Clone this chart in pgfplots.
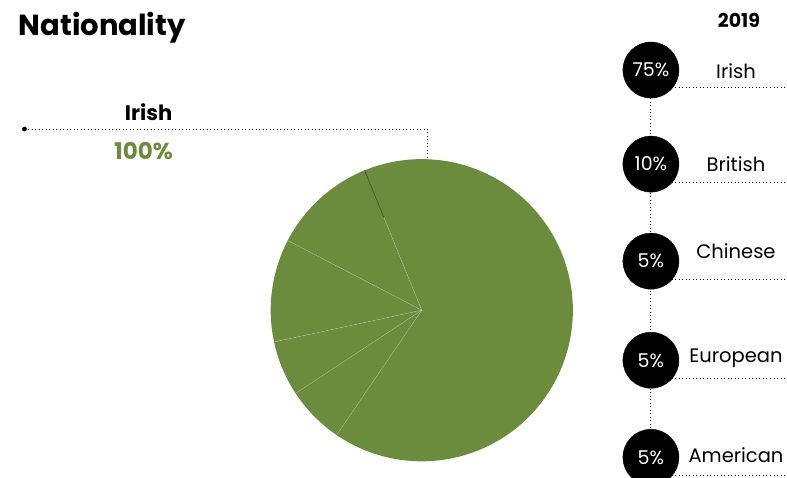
\documentclass[border=0pt]{standalone}
\usepackage{pgfplots}
\pgfplotsset{compat=1.18}
\usepackage{pgfplotstable}
\usepackage{fontspec}
\setmainfont{Poppins}
\definecolor{pgreen}{RGB}{107,140,60}

\pgfplotstableread{
label value
Irish 65.7
British 11.2
Chinese 11.0
European 5.9
American 6.2
}\piedata

\pgfplotstableread{
x y pct
651 70 75\%
651 164 10\%
651 261 5\%
651 360 5\%
651 457 5\%
}\circdata

\pgfplotstableread{
x y name
736 71 Irish
736 164 British
736 251 Chinese
736 358 European
736 455 American
}\namedata

\begin{document}
\pgfplotstablegetelem{0}{value}\of\piedata\let\vA\pgfplotsretval
\pgfplotstablegetelem{1}{value}\of\piedata\let\vB\pgfplotsretval
\pgfplotstablegetelem{2}{value}\of\piedata\let\vC\pgfplotsretval
\pgfplotstablegetelem{3}{value}\of\piedata\let\vD\pgfplotsretval
\pgfplotstablegetelem{4}{value}\of\piedata\let\vE\pgfplotsretval
\pgfmathsetmacro\tot{\vA+\vB+\vC+\vD+\vE}
\pgfmathsetmacro\sA{235.7}
\pgfmathsetmacro\sB{\sA+\vA/\tot*360}
\pgfmathsetmacro\sC{\sB+\vB/\tot*360}
\pgfmathsetmacro\sD{\sC+\vC/\tot*360}
\pgfmathsetmacro\sE{\sD+\vD/\tot*360}
\pgfmathsetmacro\sF{\sE+\vE/\tot*360}
\begin{tikzpicture}
\begin{axis}[at={(0,0)}, anchor=south west, scale only axis,
  width=787pt, height=477pt, xmin=0, xmax=787, ymin=0, ymax=477,
  y dir=reverse, hide axis, xtick=\empty, ytick=\empty,
  clip=true, clip bounding box=upper bound, clip marker paths=true]
\path (axis cs:400,0) -- (axis cs:400,5);
% pie
\fill[pgreen] (axis cs:422,310) -- ++(\sA:151pt) arc[start angle=\sA, end angle=\sB, radius=151pt] -- cycle;
\fill[pgreen] (axis cs:422,310) -- ++(\sB:151pt) arc[start angle=\sB, end angle=\sC, radius=151pt] -- cycle;
\fill[pgreen] (axis cs:422,310) -- ++(\sC:151pt) arc[start angle=\sC, end angle=\sD, radius=151pt] -- cycle;
\fill[pgreen] (axis cs:422,310) -- ++(\sD:151pt) arc[start angle=\sD, end angle=\sE, radius=151pt] -- cycle;
\fill[pgreen] (axis cs:422,310) -- ++(\sE:151pt) arc[start angle=\sE, end angle=\sF, radius=151pt] -- cycle;
\draw[white, draw opacity=0.3, line width=0.5pt] (axis cs:422,310) -- ++(\sA:151pt);
\draw[white, draw opacity=0.3, line width=0.5pt] (axis cs:422,310) -- ++(\sB:151pt);
\draw[white, draw opacity=0.3, line width=0.5pt] (axis cs:422,310) -- ++(\sC:151pt);
\draw[white, draw opacity=0.3, line width=0.5pt] (axis cs:422,310) -- ++(\sD:151pt);
\draw[white, draw opacity=0.3, line width=0.5pt] (axis cs:422,310) -- ++(\sE:151pt);
\draw[pgreen!55!black, line width=0.7pt] (axis cs:422,310) ++(\sB:100pt) -- ++(\sB:51pt);
% leader
\draw[line width=0.9pt, dash pattern=on 0.9pt off 2.6pt] (axis cs:25,129) -- (axis cs:428,129) -- (axis cs:428,158);
\fill (axis cs:25,129) circle[radius=2.4pt];
% right side lines
\draw[line width=0.9pt, dash pattern=on 0.9pt off 2.6pt] (axis cs:651,70) -- (axis cs:651,477);
\foreach \yy in {87,182,279,378,475} {
  \edef\tmp{\noexpand\draw[line width=0.9pt, dash pattern=on 0.9pt off 2.6pt] (axis cs:672,\yy) -- (axis cs:787,\yy);}\tmp
}
\addplot[only marks, mark=*, mark size=28pt, black,
  point meta=explicit symbolic, nodes near coords,
  nodes near coords style={anchor=center, text=white, font=\fontsize{19}{22}\selectfont}]
  table[x=x, y=y, meta=pct] {\circdata};
\addplot[only marks, mark=none, draw=none,
  point meta=explicit symbolic, nodes near coords,
  nodes near coords style={anchor=center, text=black, font=\fontsize{19.5}{22}\selectfont}]
  table[x=x, y=y, meta=name] {\namedata};
% texts
\node[anchor=west, font=\fontsize{29}{32}\selectfont\bfseries, inner sep=0pt] at (axis cs:19,28) {Nationality};
\node[font=\fontsize{19}{22}\selectfont\bfseries] at (axis cs:739,20) {2019};
\node[font=\fontsize{21}{24}\selectfont\bfseries] at (axis cs:149,112) {Irish};
\node[font=\fontsize{23}{26}\selectfont\bfseries, text=pgreen] at (axis cs:144,151) {100\%};
\end{axis}
\end{tikzpicture}
\end{document}
